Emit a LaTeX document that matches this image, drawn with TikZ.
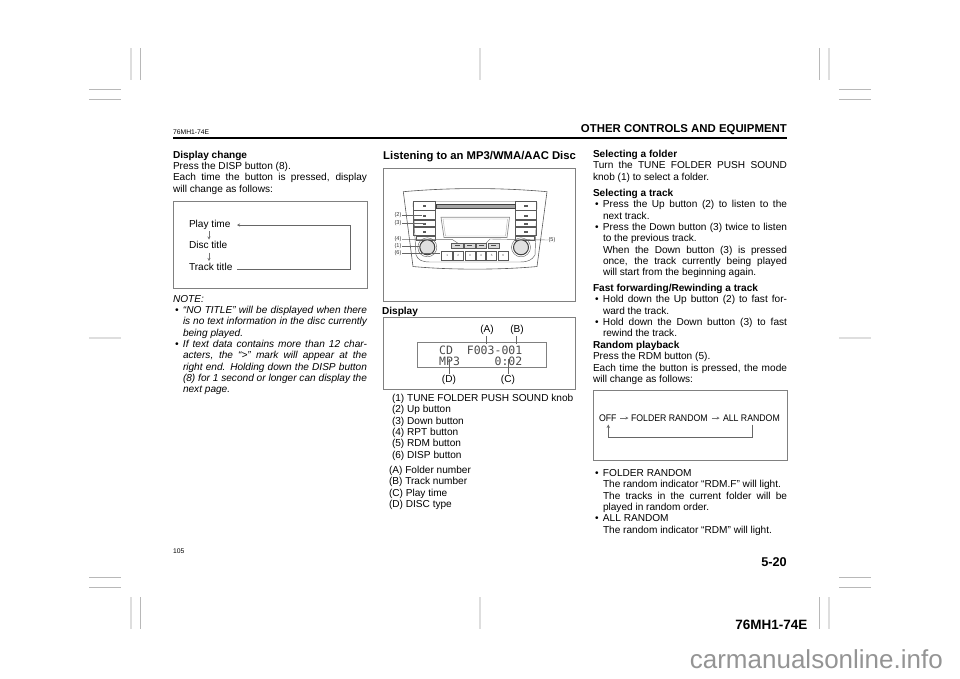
\documentclass[tikz,border=0pt]{standalone}
\usepackage{fontspec}
\setmainfont{Liberation Sans}
\newfontfamily\lcdfont{DejaVu Sans Mono}
\usetikzlibrary{arrows.meta}
\newcommand\stretchspaces{\spaceskip=0.278em plus 1em minus 0.08em\relax}
\newcommand\fullline[1]{\makebox[\hsize][s]{\stretchspaces #1}}
\newcommand\bulletline[1]{\makebox[\hsize][s]{\stretchspaces\makebox[10pt][l]{\hspace{2pt}•}#1}}
\newcommand\bulletplain[1]{\makebox[10pt][l]{\hspace{2pt}•}#1}
\newcommand\indentfull[1]{\hspace*{10pt}\makebox[\dimexpr\hsize-10pt][s]{\stretchspaces #1}}
\newcommand\indentplain[1]{\hspace*{10pt}#1}
\tikzset{
  para/.style={anchor=base west,inner sep=0pt,outer sep=0pt,text width=194pt,align=flush left,
    font=\fontsize{10.1}{11.35}\selectfont},
  plain/.style={anchor=base west,inner sep=0pt,outer sep=0pt,font=\fontsize{10.1}{11.35}\selectfont},
  lab/.style={anchor=base,inner sep=0pt,outer sep=0pt,font=\fontsize{10.1}{11.35}\selectfont},
  boxline/.style={draw=black!50,line width=0.8pt},
  crop/.style={draw=black!28,line width=0.7pt},
  croplight/.style={draw=black!13,line width=1.2pt},
  tinyarrow/.style={draw=black!55,line width=0.6pt,-{Stealth[length=3pt,width=3pt]}},
  flow/.style={draw=black!60,line width=0.6pt},
  radio/.style={draw=black!65,line width=0.45pt},
  radiolab/.style={anchor=center,inner sep=0pt,outer sep=0pt,font=\fontsize{5.6}{6}\selectfont,text=black!80},
  leader/.style={draw=black!60,line width=0.4pt},
  keynum/.style={inner sep=0pt,font=\fontsize{3}{3}\selectfont,text=black!70},
  stretched/.style={anchor=base west,inner sep=0pt,outer sep=0pt,font=\fontsize{9.6}{11}\selectfont,xscale=0.91,transform shape}
}
\begin{document}
\begin{tikzpicture}[x=1pt,y=-1pt]
\useasboundingbox (0,0) rectangle (960,678);
% crop marks
\foreach \yy in {48,597}{
  \draw[croplight] (131,\yy) -- ++(0,32);
  \draw[crop] (140.5,\yy) -- ++(0,32);
  \draw[croplight] (480,\yy) -- ++(0,32);
  \draw[crop] (819,\yy) -- ++(0,32);
  \draw[croplight] (829,\yy) -- ++(0,32);
}
\foreach \yy in {89.5,99,577,587}{
  \draw[crop] (89,\yy) -- ++(32,0);
  \draw[crop] (839,\yy) -- ++(32,0);
}
\draw[croplight] (89,338) -- ++(32,0);
\draw[croplight] (839,338) -- ++(32,0);
% header
\node[anchor=base west,inner sep=0pt,font=\fontsize{6.75}{8}\selectfont] (hdr) at (173,134.5) {76MH1-74E};
\node[anchor=base east,inner sep=0pt,font=\bfseries\fontsize{11.4}{13}\selectfont] (title) at (787,132.5) {OTHER CONTROLS AND EQUIPMENT};
\draw[line width=1.8pt] (173,138) -- (787,138);
% column 1
\node[para] (c1a) at (173,158) {\textbf{Display change}\\Press the DISP button (8).\\\fullline{Each time the button is pressed, display}\\will change as follows:};
\draw[boxline] (173,201) rectangle (367,288);
\node[plain] (play) at (189,227.5) {Play time};
\node[plain] (disc) at (189,248.5) {Disc title};
\node[plain] (track) at (189,270.5) {Track title};
\coordinate (pr) at (237,225);
\coordinate (tr) at (237,269);
\coordinate (fr) at (350,269);
\coordinate (fq) at (350,225);
\draw[tinyarrow] (209,231) -- (209,239.5);
\draw[tinyarrow] (209,252.5) -- (209,261);
\draw[flow,-{Stealth[length=3pt,width=3pt]}] (tr) -- (fr) -- (fq) -- (pr);
\node[para] (note) at (173,302) {\itshape NOTE:\\\bulletline{“NO TITLE” will be displayed when there}\\\indentfull{is no text information in the disc currently}\\\indentplain{being played.}\\\bulletline{If text data contains more than 12 char-}\\\indentfull{acters, the “>” mark will appear at the}\\\indentfull{right end. Holding down the DISP button}\\\indentfull{(8) for 1 second or longer can display the}\\\indentplain{next page.}};
% column 2
\node[anchor=base west,inner sep=0pt,font=\bfseries\fontsize{11.3}{13}\selectfont] (head2) at (383,159) {Listening to an MP3/WMA/AAC Disc};
\draw[boxline] (383,168) rectangle (575,301);
% radio
\draw[radio,line width=0.6pt] (403.3,191.7) .. controls (450,187.5) and (500,187.5) .. (547,191.7) -- (537,266.5) .. controls (500,270) and (450,270) .. (413,266.5) -- cycle;
\draw[radio] (413,203) .. controls (413,201) and (414,201.5) .. (416,201.5) -- (534,201.5) .. controls (536,201.5) and (537,201) .. (537,203) -- (535,255) .. controls (532,260) and (528,262) .. (520,262) -- (430,262) .. controls (422,262) and (418,260) .. (416,255) -- cycle;
\foreach \ya/\yb in {201.5/210,210.5/219,220/226.5,227.5/235}{
  \draw[radio] (413.5,\ya) rectangle (435,\yb);
  \draw[radio] (515,\ya) rectangle (536.5,\yb);
}
\draw[radio] (416,236) rectangle (435,240);
\draw[radio] (515,236) rectangle (534,240);
\draw[black!75,line width=0.7pt,fill=black!35] (436,204) rectangle (515,208.5);
\draw[radio,line width=0.7pt,draw=black!45] (441,217.3) -- (509.5,217.3) -- (507,237.5) -- (444,237.5) -- cycle;
\draw[radio,draw=black!30] (443,219) -- (507.5,219) -- (505.5,236) -- (445.5,236) -- cycle;
\draw[radio,line width=1pt,draw=black!75,fill=black!12] (427.3,247.3) circle (7.5);
\draw[radio,line width=1pt,draw=black!75,fill=black!12] (521,247.3) circle (7.5);
\draw[radio,line width=0.4pt] (427.3,247.3) circle (9.5);
\draw[radio,line width=0.4pt] (521,247.3) circle (9.5);
\foreach \xa/\xb in {451.7/463,464/475,476/486.7,488/499}{
  \fill[black!15] (\xa,243.3) rectangle (\xb,248.3);
  \draw[radio] (\xa,243.3) rectangle (\xb,248.3);
  \fill[black!70] ({(\xa+\xb)/2-2.5},245.3) rectangle ({(\xa+\xb)/2+2.5},246.4);
}
\foreach \xa/\xb/\n in {441.7/452.7/1,453.3/463.3/2,465/475/3,476/485.7/4,486.7/496.7/5,498.3/508.3/6}{
  \draw[radio] (\xa,251.7) rectangle (\xb,260.7);
  \node[keynum] (key\n) at ({(\xa+\xb)/2},255.5) {\n};
}
% button marks
\foreach \yy in {205,215,223,231}{
  \fill[black!65] (423,\yy) rectangle (426,\yy+1.5);
  \fill[black!65] (524,\yy) rectangle (528,\yy+1.5);
}
\node[radiolab] (l2) at (398,215) {(2)};
\node[radiolab] (l3) at (398,222.7) {(3)};
\node[radiolab] (l4) at (398,239.3) {(4)};
\node[radiolab] (l1) at (398,246) {(1)};
\node[radiolab] (l6) at (398,252.7) {(6)};
\node[radiolab] (l5) at (552,240) {(5)};
\coordinate (t2) at (421.7,215);
\coordinate (t3) at (425,222.7);
\coordinate (t1) at (420,246);
\coordinate (t6) at (440,252.7);
\draw[leader] (l2) ++(4,0) -- (t2);
\draw[leader] (l3) ++(4,0) -- (t3);
\draw[leader] (l1) ++(4,0) -- (t1);
\draw[leader] (l6) ++(4,0) -- (t6);
\coordinate (t4a) at (452,239.3);
\coordinate (t4b) at (458,243.3);
\draw[leader] (l4) ++(4,0) -- (t4a) -- (t4b);
\coordinate (t5a) at (490,239);
\coordinate (t5b) at (486,243.3);
\draw[leader] (l5) ++(-4,0) -- (t5a) -- (t5b);
% display box
\node[anchor=base,inner sep=0pt,font=\bfseries\fontsize{10.1}{11}\selectfont] (disphead) at (400,314.5) {Display};
\draw[boxline] (383,317) rectangle (575,389);
\node[lab] (A) at (487,332) {(A)};
\node[lab] (B) at (517,332) {(B)};
\node[lab] (D) at (449,382) {(D)};
\node[lab] (C) at (508,382) {(C)};
\draw[draw=black!50,line width=0.9pt] (417,342) rectangle (546,367);
\node[anchor=base west,inner sep=0pt,font=\lcdfont\fontsize{11.5}{11.5}\selectfont,text=black!70] (lcd1) at (439,354) {CD\ \ F003-001};
\node[anchor=base west,inner sep=0pt,font=\lcdfont\fontsize{11.5}{11.5}\selectfont,text=black!70] (lcd2) at (439,365) {MP3\ \ \ \ \ 0:02};
\draw[flow] (A.south -| 486,0) ++(0,2) -- (486,344);
\draw[flow] (B.south -| 516,0) ++(0,2) -- (516,344);
\draw[flow] (D.north) ++(0,-1) -- (449,359);
\draw[flow] (C.north) ++(0,-1) -- (508,359);
\node[para] (list1) at (392,401.5) {(1) TUNE FOLDER PUSH SOUND knob\\(2) Up button\\(3) Down button\\(4) RPT button\\(5) RDM button\\(6) DISP button};
\node[para] (list2) at (389,473.5) {(A) Folder number\\(B) Track number\\(C) Play time\\(D) DISC type};
% column 3
\node[para] (s1) at (593,157.5) {\textbf{Selecting a folder}\\\fullline{Turn the TUNE FOLDER PUSH SOUND}\\knob (1) to select a folder.};
\node[para] (s2) at (593,196.5) {\textbf{Selecting a track}\\\bulletline{Press the Up button (2) to listen to the}\\\indentplain{next track.}\\\bulletline{Press the Down button (3) twice to listen}\\\indentplain{to the previous track.}\\\indentfull{When the Down button (3) is pressed}\\\indentfull{once, the track currently being played}\\\indentplain{will start from the beginning again.}};
\node[para] (s3) at (593,291.5) {\textbf{Fast forwarding/Rewinding a track}\\\bulletline{Hold down the Up button (2) to fast for-}\\\indentplain{ward the track.}\\\bulletline{Hold down the Down button (3) to fast}\\\indentplain{rewind the track.}};
\node[para] (s4) at (593,348.5) {\textbf{Random playback}\\Press the RDM button (5).\\\fullline{Each time the button is pressed, the mode}\\will change as follows:};
\draw[boxline] (593,390) rectangle (787,460.5);
\node[stretched] (off) at (599,421.5) {OFF};
\node[stretched] (fold) at (631,421.5) {FOLDER RANDOM};
\node[stretched] (allr) at (723,421.5) {ALL RANDOM};
\draw[tinyarrow] (off.base east) ++(4,-3.4) -- ++(8,0);
\draw[tinyarrow] (fold.base east) ++(4,-3.4) -- ++(8,0);
\coordinate (u1) at (752.7,424.5);
\coordinate (u2) at (752.7,437);
\coordinate (u3) at (608.3,437);
\coordinate (u4) at (608.3,424.5);
\draw[flow,-{Stealth[length=3.5pt,width=3.5pt]}] (u1) -- (u2) -- (u3) -- (u4);
\node[para] (s5) at (593,476.5) {\bulletplain{FOLDER RANDOM}\\\indentplain{The random indicator “RDM.F” will light.}\\\indentfull{The tracks in the current folder will be}\\\indentplain{played in random order.}\\\bulletplain{ALL RANDOM}\\\indentplain{The random indicator “RDM” will light.}};
% footer
\node[anchor=base west,inner sep=0pt,font=\fontsize{6.75}{8}\selectfont] (pg) at (173,553.5) {105};
\node[anchor=base east,inner sep=0pt,font=\bfseries\fontsize{12.7}{14}\selectfont] (sec) at (787,566.5) {5-20};
\node[anchor=base east,inner sep=0pt,font=\bfseries\fontsize{13.5}{15}\selectfont] (code) at (807.5,629) {76MH1-74E};
\node[anchor=base east,inner sep=0pt,font=\fontsize{26}{28}\selectfont,text=black!42] (wm) at (943,668.5) {carmanualsonline.info};
\end{tikzpicture}
\end{document}
